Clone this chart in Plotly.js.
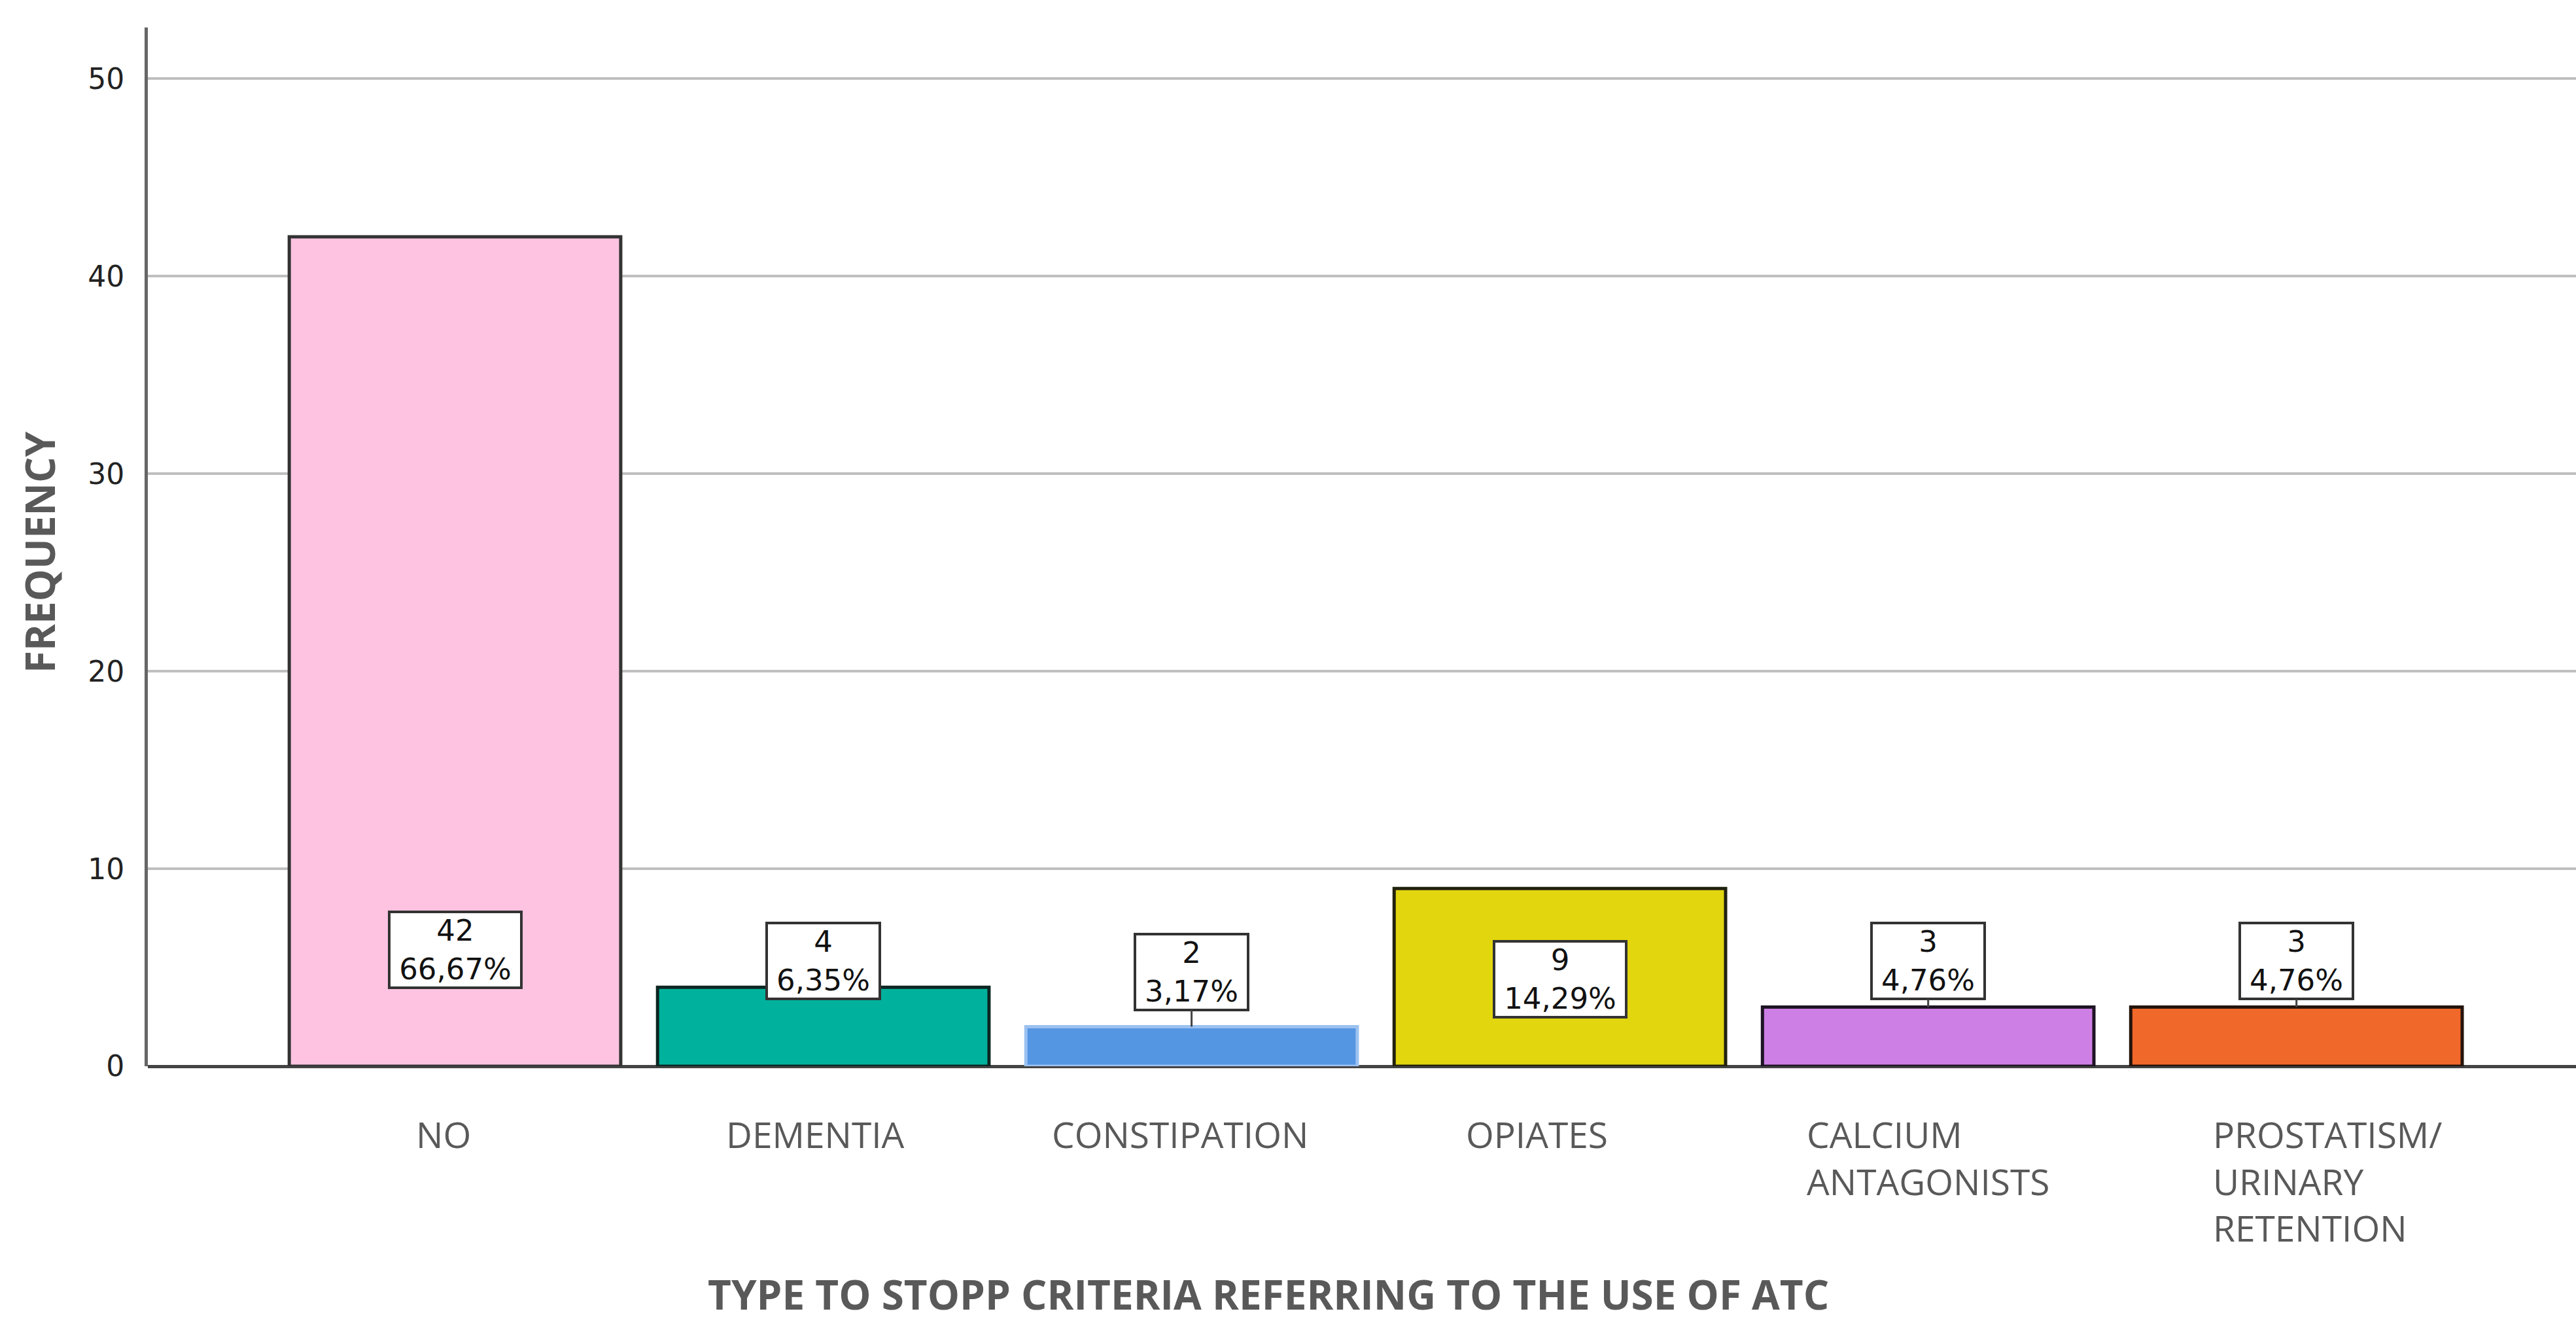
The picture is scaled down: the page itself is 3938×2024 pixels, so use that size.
<!DOCTYPE html>
<html>
<head>
<meta charset="utf-8">
<script src="https://cdn.plot.ly/plotly-3.0.1.min.js"></script>
<style>html,body{margin:0;padding:0;background:#fff;}#chart{width:3938px;height:2024px;}</style>
</head>
<body>
<div id="chart"></div>
<script>
// ---- data ----
const categories = ["NO", "DEMENTIA", "CONSTIPATION", "OPIATES", "CALCIUM ANTAGONISTS", "PROSTATISM/ URINARY RETENTION"];
const tickLabels = ["NO", "DEMENTIA", "CONSTIPATION", "OPIATES", "CALCIUM<br>ANTAGONISTS", "PROSTATISM/<br>URINARY<br>RETENTION"];
const counts = [42, 4, 2, 9, 3, 3];
const percentLabels = ["66,67%", "6,35%", "3,17%", "14,29%", "4,76%", "4,76%"];
const yTicks = [0, 10, 20, 30, 40, 50];
const xTitle = "TYPE TO STOPP CRITERIA REFERRING TO THE USE OF ATC";
const yTitle = "FREQUENCY";

// ---- styles ----
const barColors = ["#fdc3e1", "#00b29d", "#5596e3", "#e2d60f", "#cd7fe5", "#f1682b"];
const barLineColors = ["#333333", "#0d2622", "#9cc2f0", "#222210", "#1e1424", "#24140c"];
const labelOffsetPx = [1090, -40, -84, 139, -70, -70];
const showLeader = [false, false, true, false, true, true];
const tickLabelShiftPx = [-18, -12, -18, -35, 0, 48];
const labelFontSize = 45;

function textWidth(s, size) {
  const ctx = document.createElement("canvas").getContext("2d");
  ctx.font = size + "px 'DejaVu Sans'";
  return ctx.measureText(s).width;
}

const trace = {
  type: "bar",
  x: categories,
  y: counts,
  width: 0.9,
  marker: { color: barColors, line: { color: barLineColors, width: 5 } },
  hoverinfo: "none"
};

const annotations = [];
categories.forEach((c, i) => {
  const w = Math.max(textWidth(percentLabels[i], labelFontSize), textWidth(String(counts[i]), labelFontSize));
  annotations.push({
    x: c, y: counts[i], xref: "x", yref: "y",
    text: counts[i] + "<br>" + percentLabels[i],
    showarrow: true, arrowhead: 0, arrowwidth: 3,
    arrowcolor: showLeader[i] ? "#444" : "rgba(0,0,0,0)",
    ax: 0, ay: labelOffsetPx[i],
    width: Math.round(w + 26), height: 112,
    bgcolor: "#ffffff", bordercolor: "#333333", borderwidth: 4, borderpad: 0,
    font: { family: "DejaVu Sans", size: labelFontSize, color: "#111" }
  });
  annotations.push({
    x: c, y: 0, xref: "x", yref: "paper",
    text: tickLabels[i], showarrow: false,
    xanchor: "center", yanchor: "top", align: "left",
    yshift: -64, xshift: tickLabelShiftPx[i],
    font: { family: "Open Sans", size: 55, color: "#595959" }
  });
});
annotations.push({
  x: 0.4615, y: -0.219, xref: "paper", yref: "paper",
  text: "<b>" + xTitle + "</b>", showarrow: false,
  xanchor: "center", yanchor: "middle",
  font: { family: "Open Sans", size: 62, color: "#595959" }
});
annotations.push({
  x: -0.0447, y: 0.495, xref: "paper", yref: "paper",
  text: "<b>" + yTitle + "</b>", showarrow: false, textangle: -90,
  xanchor: "center", yanchor: "middle",
  font: { family: "Open Sans", size: 62, color: "#595959" }
});

const layout = {
  width: 3938, height: 2024,
  margin: { l: 226, r: 0, t: 42, b: 394 },
  paper_bgcolor: "#ffffff", plot_bgcolor: "#ffffff",
  showlegend: false,
  bargap: 0.1,
  xaxis: {
    type: "category", categoryorder: "array", categoryarray: categories,
    range: [-0.834, 5.759], showticklabels: false, ticks: "",
    showgrid: false, zeroline: false, showline: false, fixedrange: true
  },
  yaxis: {
    range: [0, 52.6], tickvals: yTicks, ticktext: yTicks.map(String),
    showgrid: true, gridcolor: "#bfbfbf", gridwidth: 4,
    zeroline: true, zerolinecolor: "#444444", zerolinewidth: 5,
    showline: true, linecolor: "#666666", linewidth: 5,
    ticks: "", ticklabelstandoff: 22,
    tickfont: { family: "DejaVu Sans", size: 44, color: "#222" },
    fixedrange: true
  },
  annotations: annotations
};

Plotly.newPlot("chart", [trace], layout, { displayModeBar: false, staticPlot: true });
</script>
</body>
</html>
